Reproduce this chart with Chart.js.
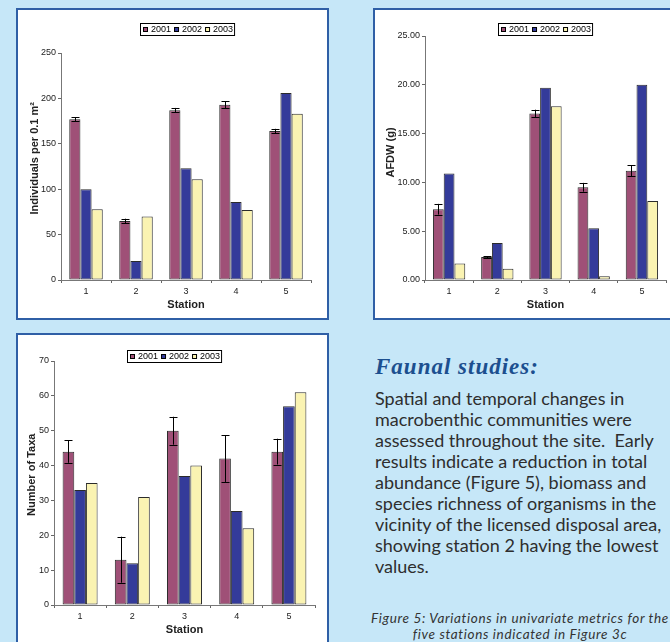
<!DOCTYPE html>
<html><head><meta charset="utf-8">
<script src="https://cdn.jsdelivr.net/npm/chart.js@4.4.1/dist/chart.umd.min.js"></script>
<style>
html,body{margin:0;padding:0;width:670px;height:642px;overflow:hidden;background:#c6e7f8;}
.panel{position:absolute;background:#fff;border:2px solid #2f5fa6;box-sizing:border-box;}
canvas{position:absolute;}
#heading{position:absolute;left:375px;top:354px;font-family:"Liberation Serif",serif;font-weight:bold;font-style:italic;font-size:23px;line-height:26px;color:#1c4f8f;letter-spacing:1px;white-space:nowrap;}
#body{position:absolute;left:375px;top:388px;font-family:Lato,sans-serif;font-size:18px;line-height:21px;color:#2e2e2e;white-space:pre;}
#caption{position:absolute;left:365px;top:610px;width:310px;text-align:center;font-family:Lato,sans-serif;font-style:italic;font-size:13.5px;line-height:16px;letter-spacing:0.65px;color:#333;white-space:pre;}
</style></head>
<body>
<div class="panel" style="left:16px;top:8px;width:313px;height:312px;"></div>
<div class="panel" style="left:373px;top:8px;width:310px;height:312px;"></div>
<div class="panel" style="left:16px;top:333px;width:313px;height:330px;"></div>
<canvas id="c1" width="309" height="308" style="left:18px;top:10px;"></canvas>
<canvas id="c2" width="295" height="308" style="left:375px;top:10px;"></canvas>
<canvas id="c3" width="309" height="307" style="left:18px;top:335px;"></canvas>
<div id="heading">Faunal studies:</div>
<div id="body">Spatial and temporal changes in
macrobenthic communities were
assessed throughout the site.  Early
results indicate a reduction in total
abundance (Figure 5), biomass and
species richness of organisms in the
vicinity of the licensed disposal area,
showing station 2 having the lowest
values.</div>
<div id="caption">Figure 5: Variations in univariate metrics for the
five stations indicated in Figure 3c</div>
<script>
// ---- data ----
const stations = ['1','2','3','4','5'];
const years = ['2001','2002','2003'];

const abund2001 = [177, 65, 187, 193, 164];
const abund2002 = [100, 21, 123, 86, 206];
const abund2003 = [78, 70, 111, 77, 183];
const abundErr2001 = [2, 2.5, 2.5, 4, 2.5];
const abundTicks = [0, 50, 100, 150, 200, 250];

const afdw2001 = [7.25, 2.35, 17.05, 9.5, 11.2];
const afdw2002 = [10.9, 3.8, 19.7, 5.3, 20.0];
const afdw2003 = [1.7, 1.15, 17.8, 0.38, 8.1];
const afdwErr2001 = [0.55, 0.1, 0.4, 0.45, 0.55];
const afdwTicks = [0, 5, 10, 15, 20, 25];

const taxa2001 = [44, 13, 50, 42, 44];
const taxa2002 = [33, 12, 37, 27, 57];
const taxa2003 = [35, 31, 40, 22, 61];
const taxaErr2001 = [3.2, 6.6, 4, 6.7, 3.7];
const taxaTicks = [0, 10, 20, 30, 40, 50, 60, 70];

const colors = ['#9f5077', '#343b9a', '#faf3b2'];
const FONT = '"Liberation Sans", Arial, sans-serif';

// ---- plugins ----
const errorBars = {
  id: 'errorBars',
  afterDatasetsDraw(chart, args, opts) {
    const meta = chart.getDatasetMeta(opts.datasetIndex);
    const ys = chart.scales.y;
    const vals = chart.data.datasets[opts.datasetIndex].data;
    const ctx = chart.ctx;
    ctx.save();
    ctx.strokeStyle = '#000';
    ctx.lineWidth = 1;
    meta.data.forEach((bar, i) => {
      const e = opts.errors[i];
      const x = Math.round(bar.x) + 0.5;
      const yt = ys.getPixelForValue(vals[i] + e);
      const yb = ys.getPixelForValue(vals[i] - e);
      ctx.beginPath();
      ctx.moveTo(x, yt); ctx.lineTo(x, yb);
      ctx.moveTo(x - 4, Math.round(yt) + 0.5); ctx.lineTo(x + 4, Math.round(yt) + 0.5);
      ctx.moveTo(x - 4, Math.round(yb) + 0.5); ctx.lineTo(x + 4, Math.round(yb) + 0.5);
      ctx.stroke();
    });
    ctx.restore();
  }
};

const boxLegend = {
  id: 'boxLegend',
  afterDraw(chart, args, opts) {
    const ctx = chart.ctx;
    ctx.save();
    ctx.font = '9px ' + FONT;
    const sq = 5, gap = 3, sep = 3, pad = 2;
    let w = pad * 2;
    const items = chart.data.datasets.map(d => ({label: d.label, color: d.backgroundColor, tw: ctx.measureText(d.label).width}));
    items.forEach((it, i) => { w += sq + gap + it.tw + (i < items.length - 1 ? sep : 0); });
    const h = 12;
    const x0 = opts.x, y0 = opts.y;
    ctx.fillStyle = '#fff';
    ctx.fillRect(x0, y0, w, h);
    ctx.strokeStyle = '#000';
    ctx.lineWidth = 1;
    ctx.strokeRect(x0 + 0.5, y0 + 0.5, w, h);
    let x = x0 + pad + 1;
    const cy = y0 + h / 2 + 0.5;
    ctx.textBaseline = 'middle';
    items.forEach(it => {
      ctx.fillStyle = it.color;
      ctx.fillRect(x, cy - sq / 2, sq, sq);
      ctx.strokeStyle = '#000';
      ctx.strokeRect(x + 0.5, cy - sq / 2 + 0.5, sq - 1, sq - 1);
      ctx.fillStyle = '#000';
      ctx.fillText(it.label, x + sq + gap, cy + 0.5);
      x += sq + gap + it.tw + sep;
    });
    ctx.restore();
  }
};

function makeChart(id, series, errs, yMax, yStep, yTitle, fmt, lay) {
  new Chart(document.getElementById(id), {
    type: 'bar',
    data: {
      labels: stations,
      datasets: series.map((s, i) => ({
        label: years[i], data: s, backgroundColor: colors[i],
        borderColor: '#2b2b2b', borderWidth: 1, borderSkipped: false,
        categoryPercentage: 0.67, barPercentage: 1
      }))
    },
    plugins: [errorBars, boxLegend],
    options: {
      responsive: false, animation: false,
      layout: {padding: {top: lay.top, right: lay.right, left: 0, bottom: 0}},
      plugins: {
        legend: {display: false}, tooltip: {enabled: false},
        errorBars: {datasetIndex: 0, errors: errs},
        boxLegend: {x: lay.lx, y: lay.ly}
      },
      scales: {
        x: {
          grid: {display: true, drawOnChartArea: false, offset: true, tickLength: 3, color: '#666'},
          border: {color: '#777', width: 1},
          ticks: {font: {family: FONT, size: 9}, color: '#222', padding: 3},
          title: {display: true, text: 'Station', font: {family: FONT, size: 11, weight: 'bold'}, color: '#222', padding: {top: 0, bottom: lay.xtp}},
          afterFit: s => { s.width = s.width; s.height = lay.xh; }
        },
        y: {
          min: 0, max: yMax,
          grid: {display: true, drawOnChartArea: false, tickLength: 3, color: '#666'},
          border: {color: '#777', width: 1},
          ticks: {stepSize: yStep, font: {family: FONT, size: 9}, color: '#222', padding: 2, callback: v => fmt(v)},
          title: {display: true, text: lay.lead + yTitle, font: {family: FONT, size: 11, weight: 'bold'}, color: '#222', padding: {top: lay.ytp, bottom: 0}},
          afterFit: s => { s.width = lay.yw; }
        }
      }
    }
  });
}

makeChart('c1', [abund2001, abund2002, abund2003], abundErr2001, abundTicks[abundTicks.length-1], abundTicks[1]-abundTicks[0],
  'Individuals per 0.1 m²', v => String(v),
  {top: 43, right: 16, yw: 43, xh: 38, xtp: 6, ytp: 10, lx: 122, ly: 13, lead: '\u2002\u2002\u2002'});
makeChart('c2', [afdw2001, afdw2002, afdw2003], afdwErr2001, afdwTicks[afdwTicks.length-1], afdwTicks[1]-afdwTicks[0],
  'AFDW (g)', v => v.toFixed(2),
  {top: 26, right: 4, yw: 50, xh: 38, xtp: 6, ytp: 9, lx: 123, ly: 13, lead: '\u2002\u2002'});
makeChart('c3', [taxa2001, taxa2002, taxa2003], taxaErr2001, taxaTicks[taxaTicks.length-1], taxaTicks[1]-taxaTicks[0],
  'Number of Taxa', v => String(v),
  {top: 26, right: 12, yw: 36, xh: 37, xtp: 5, ytp: 7, lx: 109, ly: 15, lead: '\u2002\u2002\u2002'});
</script>
</body></html>
